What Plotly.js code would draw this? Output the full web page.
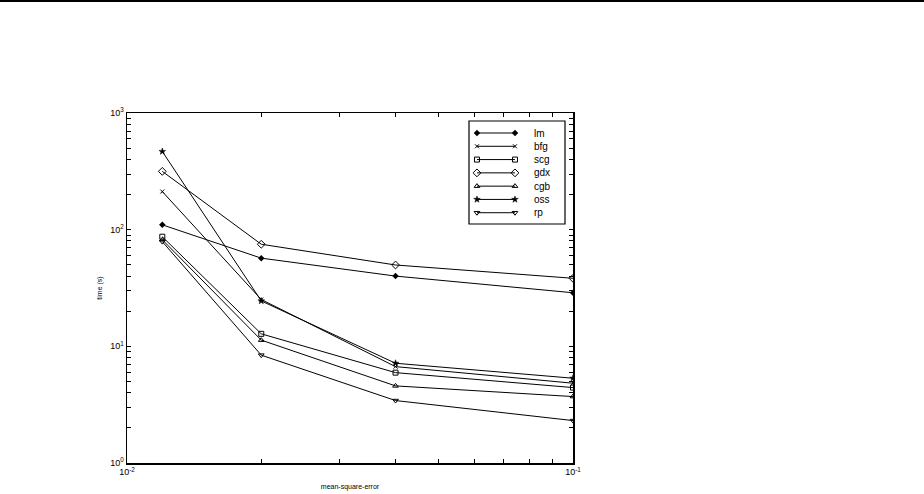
<!DOCTYPE html>
<html>
<head>
<meta charset="utf-8">
<script src="https://cdn.plot.ly/plotly-3.0.1.min.js"></script>
<style>html,body{margin:0;padding:0;background:#fff;}#chart{width:924px;height:494px;}</style>
</head>
<body>
<div id="chart"></div>
<script>
// ---- data ----
const mse = [0.012, 0.02, 0.04, 0.1];
const seriesNames = ["lm", "bfg", "scg", "gdx", "cgb", "oss", "rp"];
const lm  = [110, 57, 40, 28.8];
const bfg = [212, 25.2, 6.7, 4.83];
const scg = [87, 12.8, 5.95, 4.43];
const gdx = [316, 75, 49.8, 38.3];
const cgb = [82, 11.3, 4.58, 3.71];
const oss = [468, 24.5, 7.16, 5.33];
const rp  = [79, 8.4, 3.43, 2.31];
const seriesValues = [lm, bfg, scg, gdx, cgb, oss, rp];
const xTickVals = [0.01, 0.1];
const xTickText = ["10<sup>-2</sup>", "10<sup>-1</sup>"];
const xMinorVals = [0.02,0.03,0.04,0.05,0.06,0.07,0.08,0.09];
const yTickVals = [1, 10, 100, 1000];
const yTickText = ["10<sup>0</sup>", "10<sup>1</sup>", "10<sup>2</sup>", "10<sup>3</sup>"];
const yMinorVals = [2,3,4,5,6,7,8,9,20,30,40,50,60,70,80,90,200,300,400,500,600,700,800,900];

// ---- styles ----
const markerStyles = [
  {symbol:"diamond", size:5, color:"#000"},
  {symbol:"x-thin-open", size:4, color:"#000", line:{width:1,color:"#000"}},
  {symbol:"square-open", size:5, color:"#000", line:{width:1,color:"#000"}},
  {symbol:"diamond-open", size:6, color:"#000", line:{width:1,color:"#000"}},
  {symbol:"triangle-up-open", size:5, color:"#000", line:{width:1,color:"#000"}},
  {symbol:"star", size:5, color:"#000", line:{width:0.5,color:"#000"}},
  {symbol:"triangle-down-open", size:5, color:"#000", line:{width:1,color:"#000"}}
];
const font = "Liberation Sans, Arial, sans-serif";

const traces = seriesNames.map((n,i) => ({
  type:"scatter", mode:"lines+markers", name:n,
  x: mse, y: seriesValues[i],
  line:{color:"#000", width:1},
  marker: markerStyles[i],
  showlegend:false, hoverinfo:"skip"
}));

// manual legend on a hidden axis pair
const legTop = 0.1165, legStep = 0.129;
const annotations = [];
seriesNames.forEach((n,i) => {
  const yy = 1 - (legTop + i*legStep);
  traces.push({
    type:"scatter", mode:"lines+markers", x:[0.083,0.479], y:[yy,yy],
    xaxis:"x2", yaxis:"y2", line:{color:"#000", width:1},
    marker: markerStyles[i], showlegend:false, hoverinfo:"skip"
  });
  annotations.push({xref:"x2", yref:"y2", x:0.656, y:yy, text:n, showarrow:false,
    xanchor:"left", yanchor:"middle", font:{family:font, size:10, color:"#000"}});
});

const W = 924, H = 494, L = 127, R = 573, T = 113, B = 463;
const pw = R - L, ph = B - T;
const px = v => (v - L)/pw, py = v => (B - v)/ph;

const axisCommon = {
  type:"log", ticks:"inside", ticklen:4, tickwidth:1, tickcolor:"#000",
  showline:true, linecolor:"#000", linewidth:1.5, mirror:"ticks",
  showgrid:false, zeroline:false,
  tickfont:{family:font, size:9, color:"#000"}
};

const layout = {
  width:W, height:H,
  margin:{l:L, r:W-R, t:T, b:H-B, pad:0},
  paper_bgcolor:"#fff", plot_bgcolor:"#fff",
  showlegend:false,
  font:{family:font, size:8, color:"#000"},
  xaxis:Object.assign({}, axisCommon, {
    range:[-2,-1], tickmode:"array", tickvals:xTickVals, ticktext:xTickText,
    minor:{tickmode:"array", tickvals:xMinorVals, ticks:"inside", ticklen:4, tickwidth:1, tickcolor:"#000", showgrid:false},
    title:{text:"mean-square-error", font:{family:font, size:7, color:"#000"}, standoff:8}
  }),
  yaxis:Object.assign({}, axisCommon, {
    range:[0,3], tickmode:"array", tickvals:yTickVals, ticktext:yTickText,
    minor:{tickmode:"array", tickvals:yMinorVals, ticks:"inside", ticklen:4, tickwidth:1, tickcolor:"#000", showgrid:false},
    title:{text:"time (s)", font:{family:font, size:7, color:"#000"}, standoff:6}
  }),
  xaxis2:{domain:[px(469), px(565)], range:[0,1], visible:false, fixedrange:true, anchor:"y2"},
  yaxis2:{domain:[py(224), py(121)], range:[0,1], visible:false, fixedrange:true, anchor:"x2"},
  shapes:[
    {type:"rect", xref:"paper", yref:"paper", x0:px(469), x1:px(565), y0:py(224), y1:py(121),
     line:{color:"#000", width:1.2}, fillcolor:"rgba(0,0,0,0)"},
    {type:"line", xref:"paper", yref:"paper", x0:px(0), x1:px(W), y0:py(1), y1:py(1),
     line:{color:"#000", width:2}}
  ],
  annotations: annotations
};

Plotly.newPlot("chart", traces, layout, {staticPlot:true, displayModeBar:false});
</script>
</body>
</html>
